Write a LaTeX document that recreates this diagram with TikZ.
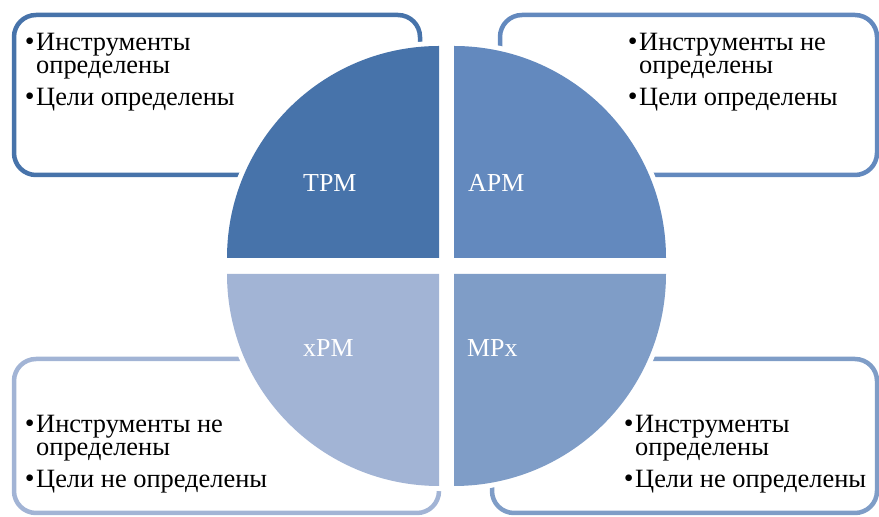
\documentclass[tikz,border=0pt]{standalone}
\usepackage{fontspec}
\setmainfont{Liberation Serif}
\definecolor{tpmc}{RGB}{71,115,170}
\definecolor{apmc}{RGB}{99,137,190}
\definecolor{xpmc}{RGB}{162,180,213}
\definecolor{mpxc}{RGB}{127,157,199}
\newcommand\bul{\llap{{\fontsize{28}{28}\selectfont •}\hspace{1.5pt}}}

\begin{document}
\begin{tikzpicture}[x=1bp,y=1bp,
font=\fontsize{26.5}{23}\selectfont,
box/.style={line width=4.5bp,rounded corners=22bp},
quad/.style={preaction={draw=white,line width=10bp}},
txt/.style={anchor=north west,inner sep=0pt,align=left},
lab/.style={anchor=base west,inner sep=0pt,text=white,font=\fontsize{26}{26}\selectfont},
]
\useasboundingbox(0,0)rectangle(879,517);
%Boxes
\draw[box,tpmc](14,342)rectangle(420,502);
\draw[box,apmc](500,342)rectangle(877,502);
\draw[box,xpmc](14,4)rectangle(439,158);
\draw[box,mpxc](492,4)rectangle(877,158);
%%Quadrants
\path[quad,fill=tpmc](439,259)--++(0,212)arc[start angle=90,end angle=180,radius=212]--cycle;
\path[quad,fill=apmc](454,259)--++(212,0)arc[start angle=0,end angle=90,radius=212]--cycle;
\path[quad,fill=xpmc](439,243)--++(-212,0)arc[start angle=180,end angle=270,radius=212]--cycle;
\path[quad,fill=mpxc](454,243)--++(0,-212)arc[start angle=270,end angle=360,radius=212]--cycle;
\node[lab](tpm)at(303,325){TPM};
\node[lab](apm)at(468,325){APM};
\node[lab](xpm)at(303,160){xPM};
\node[lab](mpx)at(467,160){MPx};
%%Texts
\node[txt](tltext)at(36,484){\bul Инструменты\\определены\\[9pt]\bul Цели определены};
\node[txt](trtext)at(639,484){\bul Инструменты не\\определены\\[9pt]\bul Цели определены};
\node[txt](bltext)at(36,102){\bul Инструменты не\\определены\\[9pt]\bul Цели не определены};
\node[txt](brtext)at(635,102){\bul Инструменты\\определены\\[9pt]\bul Цели не определены};
\end{tikzpicture}
\end{document}
